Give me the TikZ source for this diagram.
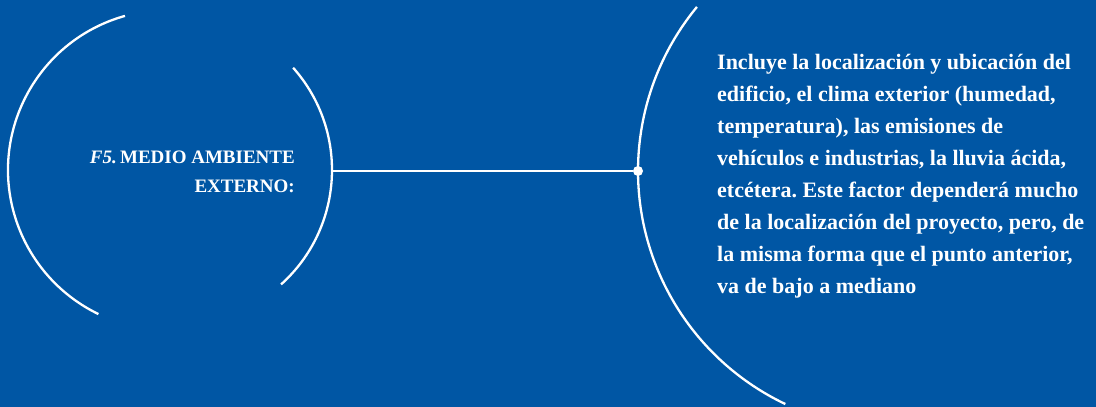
\documentclass[tikz,border=0pt]{standalone}
\usepackage{fontspec}
\setmainfont{Liberation Serif}
\usetikzlibrary{positioning}
\definecolor{fondo}{RGB}{0,86,164}
\tikzset{
  trazo/.style={draw=white,line width=2.3pt},
  punto/.style={circle,fill=white,inner sep=0pt,minimum size=10pt},
}
\frenchspacing
\begin{document}
\begin{tikzpicture}[x=1pt,y=1pt]
	\useasboundingbox (0,0) rectangle (1096,407);
	\fill[fondo] (0,0) rectangle (1096,407);
	% arcos del circulo izquierdo
	\draw[trazo] (168,237) ++(105.6:160) arc[start angle=105.6,end angle=244.2,radius=160];
	\draw[trazo] (178,237) ++(41.6:154) arc[start angle=41.6,end angle=-48,radius=154];
	\coordinate (borde) at (332,236);
	% arco grande
	\draw[trazo] (896,236) ++(140.5:258) arc[start angle=140.5,end angle=244.6,radius=258];
	\node[punto] (punto) at (638,236) {};
	\draw[trazo] (borde) -- (punto);
	% textos
	\node[anchor=north east,inner sep=0pt,align=right,text=white,
		font=\fontsize{19}{29}\selectfont\bfseries] (factor) at (295,256)
		{\textit{F5.}\,MEDIO AMBIENTE\\EXTERNO:};
	\node[anchor=north west,inner sep=0pt,align=left,text=white,
		font=\fontsize{22}{32}\selectfont\bfseries] (texto) at (717,353)
		{Incluye la localización y ubicación del\\
		edificio, el clima exterior (humedad,\\
		temperatura), las emisiones de\\
		vehículos e industrias, la lluvia ácida,\\
		etcétera. Este factor dependerá mucho\\
		de la localización del proyecto, pero, de\\
		la misma forma que el punto anterior,\\
		va de bajo a mediano};
\end{tikzpicture}
\end{document}
